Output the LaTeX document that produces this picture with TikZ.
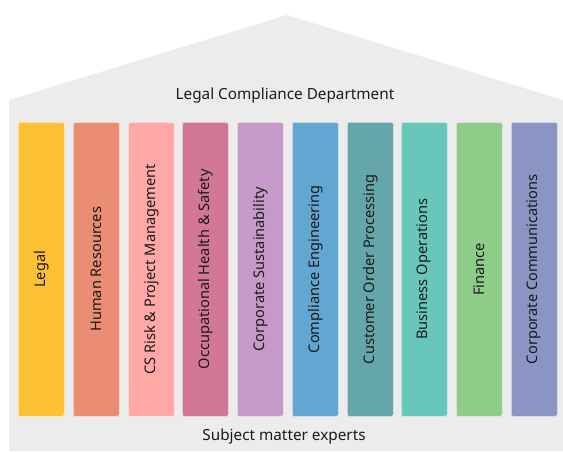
\documentclass[tikz,border=0pt]{standalone}
\usepackage{fontspec}
\setmainfont{Noto Sans}
\definecolor{housegray}{HTML}{ECECEC}
\definecolor{cLegal}{HTML}{FEC134}
\definecolor{cHR}{HTML}{EB8C75}
\definecolor{cCS}{HTML}{FFA8A6}
\definecolor{cOHS}{HTML}{D27797}
\definecolor{cCSus}{HTML}{C69AC8}
\definecolor{cCE}{HTML}{64A6D2}
\definecolor{cCOP}{HTML}{65A6AA}
\definecolor{cBO}{HTML}{67C7BA}
\definecolor{cFin}{HTML}{8FCC88}
\definecolor{cCC}{HTML}{8B94C3}
\definecolor{txt}{HTML}{1A1A1A}
\begin{document}
\begin{tikzpicture}[x=1pt,y=-1pt,
  pillar/.style={draw=white!70!#1,line width=0.6pt,fill=#1,rounded corners=1.5pt,minimum width=46pt,minimum height=294pt,inner sep=0pt,anchor=north west},
  plabel/.style={rotate=90,font=\fontsize{14.6}{17}\selectfont,text=txt},
  title/.style={font=\fontsize{15.3}{18}\selectfont,text=txt}]
\useasboundingbox (0,0) rectangle (563,451);
\fill[housegray] (9,100) -- (287,15) -- (563,100) -- (563,451) -- (9,451) -- cycle;
\node[title] (dept) at (285,96) {Legal Compliance Department};
\node[title] (sme) at (284,437) {Subject matter experts};
\foreach \x/\c/\t/\n in {18/cLegal/Legal/p1,73/cHR/Human Resources/p2,128/cCS/CS Risk \& Project Management/p3,182/cOHS/Occupational Health \& Safety/p4,237/cCSus/Corporate Sustainability/p5,292/cCE/Compliance Engineering/p6,347/cCOP/Customer Order Processing/p7,401/cBO/Business Operations/p8,456/cFin/Finance/p9,511/cCC/Corporate Communications/p10}{
  \node[pillar=\c] (\n) at (\x,122) {};
  \node[plabel] at (\n.center) {\t};
}
\end{tikzpicture}
\end{document}
